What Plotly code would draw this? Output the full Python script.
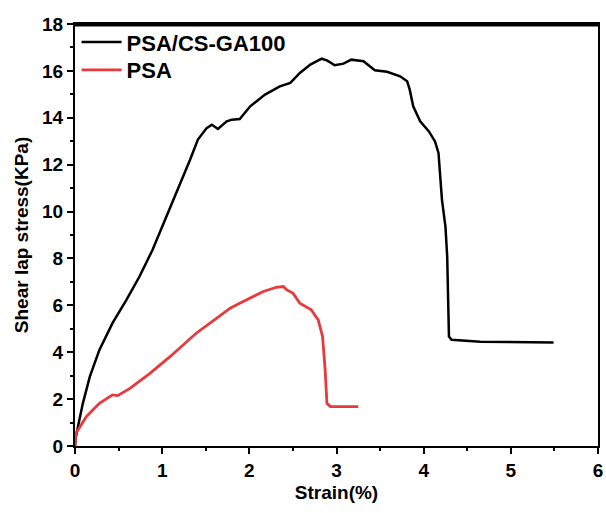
import plotly.graph_objects as go

# PSA/CS-GA100 curve (strain %, stress KPa)
strain_ga = [0, 0.01, 0.09, 0.17, 0.28, 0.43, 0.59, 0.74, 0.89, 1.05, 1.20, 1.32, 1.41, 1.51,
             1.57, 1.64, 1.74, 1.80, 1.89, 2.01, 2.18, 2.35, 2.47, 2.58, 2.70, 2.83, 2.89,
             2.98, 3.08, 3.17, 3.31, 3.44, 3.58, 3.73, 3.81, 3.84, 3.88, 3.96, 4.06, 4.13,
             4.17, 4.21, 4.25, 4.27, 4.29, 4.32, 4.65, 5.49]
stress_ga = [0, 0.4, 1.82, 2.96, 4.1, 5.24, 6.23, 7.23, 8.37, 9.79, 11.07, 12.21, 13.07, 13.56,
             13.7, 13.52, 13.85, 13.92, 13.95, 14.49, 14.99, 15.34, 15.49, 15.91, 16.27, 16.52, 16.45,
             16.24, 16.31, 16.48, 16.41, 16.03, 15.96, 15.77, 15.56, 15.2, 14.49, 13.85, 13.42, 12.99,
             12.5, 10.5, 9.36, 8.08, 4.67, 4.53, 4.45, 4.41]

# PSA curve
strain_psa = [0, 0.01, 0.13, 0.28, 0.43, 0.49, 0.63, 0.86, 1.09, 1.39, 1.58, 1.78, 1.89, 2.16,
              2.31, 2.39, 2.43, 2.50, 2.58, 2.71, 2.79, 2.84, 2.87, 2.89, 2.93, 3.25]
stress_psa = [0, 0.54, 1.25, 1.82, 2.18, 2.15, 2.46, 3.1, 3.81, 4.81, 5.33, 5.88, 6.09, 6.59,
              6.77, 6.8, 6.66, 6.52, 6.09, 5.81, 5.38, 4.67, 3.25, 1.82, 1.68, 1.68]

fig = go.Figure()

fig.add_trace(go.Scatter(x=strain_ga, y=stress_ga, mode='lines', name='PSA/CS-GA100',
                         line=dict(color='black', width=2.5), legend='legend'))
fig.add_trace(go.Scatter(x=strain_psa, y=stress_psa, mode='lines', name='PSA',
                         line=dict(color='#e8393c', width=2.8), legend='legend2'))

axis_font = dict(family='Arial', size=19, color='black', weight='bold')
legend_font = dict(family='Arial', size=22, color='black', weight='bold')

fig.update_layout(
    width=606, height=513,
    margin=dict(l=75, r=8, t=24, b=67, autoexpand=False),
    plot_bgcolor='white', paper_bgcolor='white',
    font=dict(family='Arial', color='black'),
    showlegend=True,
    legend=dict(x=0.003, y=0.957, xanchor='left', yanchor='middle',
                bgcolor='rgba(0,0,0,0)', borderwidth=0, font=legend_font, itemwidth=40),
    legend2=dict(x=0.003, y=0.891, xanchor='left', yanchor='middle',
                 bgcolor='rgba(0,0,0,0)', borderwidth=0, font=legend_font, itemwidth=40),
)

# top frame line, drawn just below the plot top edge
fig.add_shape(type='line', xref='paper', yref='paper', x0=0, x1=1, y0=0.997, y1=0.997,
              line=dict(color='black', width=2.5), layer='above')

fig.update_xaxes(
    range=[0, 6], dtick=1, showgrid=False, zeroline=False,
    showline=True, linecolor='black', linewidth=2, mirror=True,
    ticks='outside', ticklen=6, tickwidth=2, tickcolor='black',
    minor=dict(ticks='outside', ticklen=3, tickwidth=2, tickcolor='black', dtick=0.5),
    tickfont=axis_font,
    title=dict(text='Strain(%)', font=axis_font, standoff=6),
)
fig.update_yaxes(
    range=[0, 18], dtick=2, showgrid=False, zeroline=False,
    showline=True, linecolor='black', linewidth=2, mirror=True,
    ticks='outside', ticklen=6, tickwidth=2, tickcolor='black',
    minor=dict(ticks='outside', ticklen=3, tickwidth=2, tickcolor='black', dtick=1),
    tickfont=axis_font,
    title=dict(text='Shear lap stress(KPa)', font=axis_font, standoff=8),
)

fig.write_html("out.html", config={'displayModeBar': False},
               post_script="document.body.style.margin='0';")
